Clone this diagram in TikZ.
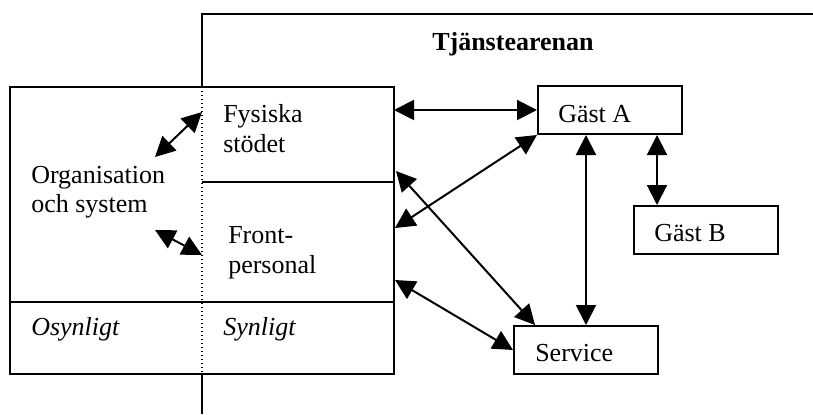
\documentclass[tikz,border=0pt]{standalone}
\usepackage{fontspec}
\setmainfont{Liberation Serif}
\usetikzlibrary{arrows.meta,calc}
\begin{document}
\begin{tikzpicture}[x=0.75pt,y=-0.75pt,
  ln/.style={line width=1.5pt},
  arr/.style={line width=1.5pt,{Triangle[length=15pt,width=15pt]}-{Triangle[length=15pt,width=15pt]}},
  txt/.style={anchor=base west,inner sep=0pt,font=\fontsize{19.5}{24}\selectfont},
  box/.style={draw,line width=1.5pt,minimum width=108pt,minimum height=36pt,inner sep=0pt}]
\useasboundingbox (0,0) rectangle (813,414);
% arena frame
\draw[ln] (202,87) -- (202,14) -- (813,14);
\draw[ln] (202,374) -- (202,414);
% organisation box
\draw[ln] (10,87) rectangle (394,374);
\draw[ln] (202,182) -- (394,182);
\draw[ln] (10,302) -- (394,302);
\draw[line width=1pt,dotted] (202,87) -- (202,374);
% boxes
\node[box] (ga) at (610,110) {};
\node[box] (gb) at (706,230) {};
\node[box] (svc) at (586,350) {};
% texts
\node[txt,font=\fontsize{19.5}{24}\selectfont\bfseries] (title) at (432,50) {Tjänstearenan};
\node[txt] (fys1) at (223,122) {Fysiska};
\node[txt] (fys2) at (223,152) {stödet};
\node[txt] (org1) at (31,183) {Organisation};
\node[txt] (org2) at (31,212) {och system};
\node[txt] (fr1) at (228,243) {Front-};
\node[txt] (fr2) at (228,273) {personal};
\node[txt,font=\fontsize{19.5}{24}\selectfont\itshape] (osy) at (31,335) {Osynligt};
\node[txt,font=\fontsize{19.5}{24}\selectfont\itshape] (syn) at (223,335) {Synligt};
\node[txt] (tga) at (558,122) {Gäst A};
\node[txt] (tgb) at (654,241) {Gäst B};
\node[txt] (tsv) at (535,361) {Service};
% connector end points
\coordinate (fysR) at (394,110);
\coordinate (fysR2) at (396,171);
\coordinate (frR1) at (395,228);
\coordinate (frR2) at (395,280);
\coordinate (orgA) at (155,157);
\coordinate (fysL) at (202,112);
\coordinate (orgB) at (155,230);
\coordinate (frL) at (202,255);
\coordinate (gbT) at ($(gb.north west)+(24,0)$);
\coordinate (svT) at ($(svc.north west)+(22,0)$);
% connectors
\draw[arr] (fysR) -- (ga.west);
\draw[arr] (frR1) -- (ga.south west);
\draw[arr] (fysR2) -- (svT);
\draw[arr] (frR2) -- (svc.west);
\draw[arr] (svc.north) -- (svc.north |- ga.south);
\draw[arr] (gbT) -- (gbT |- ga.south);
\draw[arr] (orgA) -- (fysL);
\draw[arr] (orgB) -- (frL);
\end{tikzpicture}
\end{document}
